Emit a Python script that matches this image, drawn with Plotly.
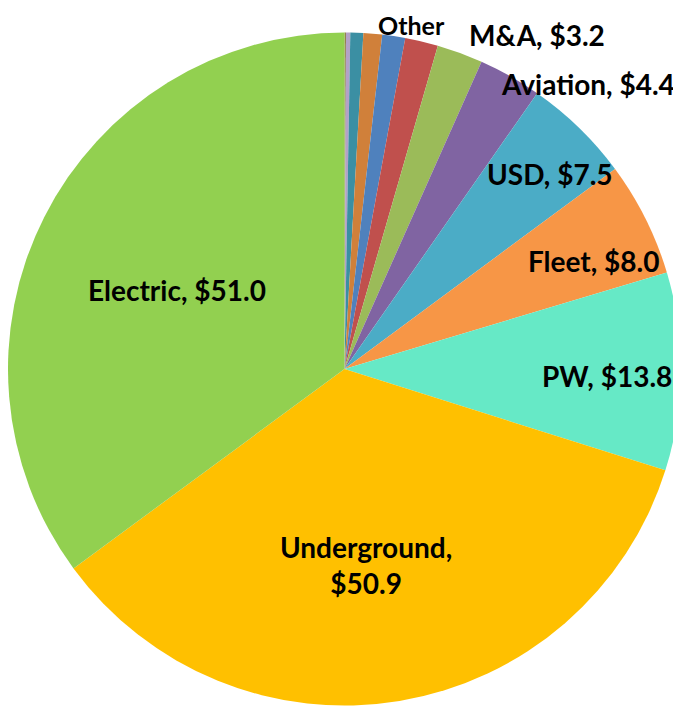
import plotly.graph_objects as go

# Data (clockwise from 12 o'clock)
categories = ["Misc A", "Misc B", "Misc C", "Misc D", "Misc E", "Misc F",
              "M&A", "Aviation", "USD", "Fleet", "PW", "Underground", "Electric"]
values = [0.1, 0.3, 0.9, 1.3, 1.6, 2.3, 3.2, 4.4, 7.5, 8.0, 13.8, 50.9, 51.0]
colors = ["#8C7A3C", "#B3A2C7", "#3B8FA3", "#D0803A", "#4F81BD", "#C0504D",
          "#9BBB59", "#8064A2", "#4BACC6", "#F79646", "#66E9C6", "#FFC000", "#92D050"]

# Labels shown on chart
label_names = ["Other", "M&A", "Aviation", "USD", "Fleet", "PW", "Electric", "Underground"]
label_values = [None, 3.2, 4.4, 7.5, 8.0, 13.8, 51.0, 50.9]
label_px = [(411, 17), (537, 35), (588, 84), (550, 174), (594, 261), (607, 376), (177, 290), (366, 565)]

W, H = 681, 707
OFF = 8  # page body margin offset

fig = go.Figure(go.Pie(
    labels=categories,
    values=values,
    sort=False,
    direction="clockwise",
    rotation=0,
    marker=dict(colors=colors, line=dict(width=0)),
    textinfo="none",
    hoverinfo="label+value",
    domain=dict(x=[0.0, 673 / W], y=[1 - 698 / H, 1 - 24 / H]),
    showlegend=False,
))

annotations = []
for name, val, (px, py) in zip(label_names, label_values, label_px):
    if val is None:
        text = name
    elif name == "Underground":
        text = f"{name},<br>${val:.1f}"
    else:
        text = f"{name}, ${val:.1f}"
    ann = dict(
        x=(px - OFF) / W, y=1 - (py - OFF) / H, xref="paper", yref="paper",
        text=text, showarrow=False, xanchor="center", yanchor="middle",
        font=dict(family="Lato", size=28, color="black", weight="bold"),
        align="center",
    )
    if name == "Other":
        ann["y"] = 1.0
        ann["yanchor"] = "top"
        ann["font"] = dict(family="Lato", size=25, color="black", weight="bold")
    annotations.append(ann)

fig.update_layout(
    width=W, height=H,
    margin=dict(l=0, r=0, t=0, b=0),
    paper_bgcolor="white",
    plot_bgcolor="white",
    annotations=annotations,
)

fig.write_html("out.html")
